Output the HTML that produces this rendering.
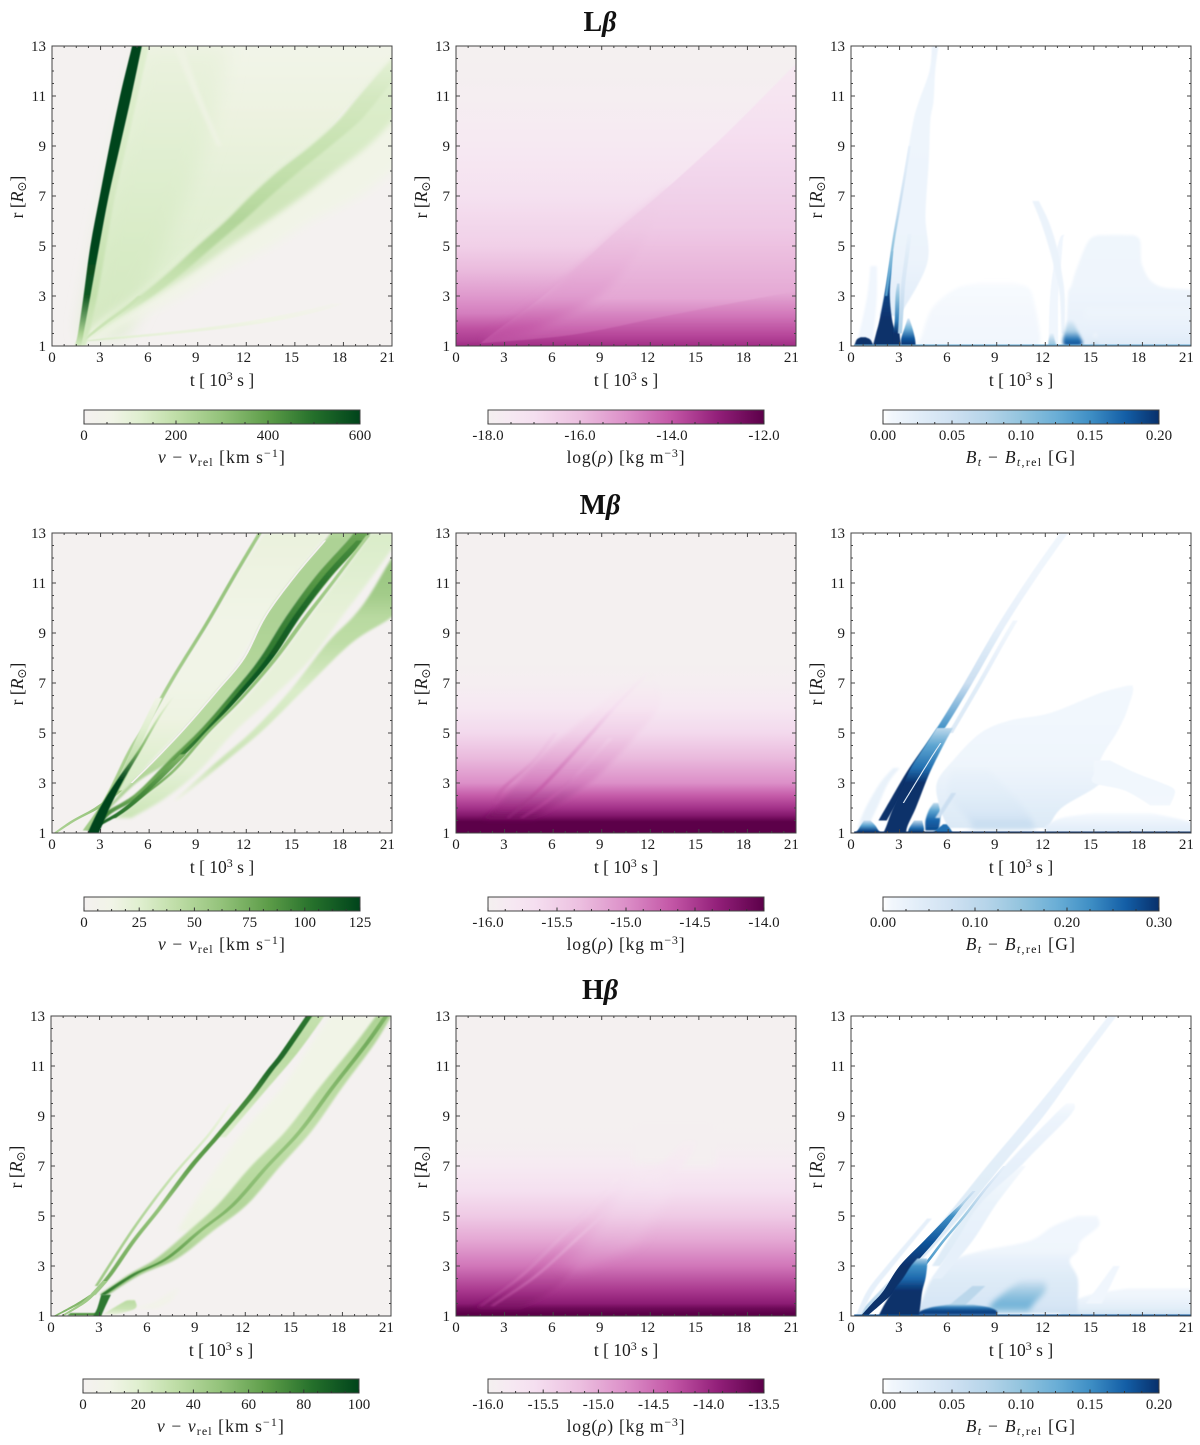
<!DOCTYPE html>
<html lang="en">
<head>
<meta charset="utf-8">
<title>Lβ, Mβ and Hβ time-distance maps</title>
<style>
html,body{margin:0;padding:0;background:#fff;width:1200px;height:1445px;overflow:hidden}
svg{display:block}
text{font-family:"Liberation Serif","DejaVu Serif",serif;fill:#1c1c1c}
.title{font-weight:bold;font-size:28px;text-anchor:middle;fill:#111}
.tick{font-size:15px}
.axis{font-size:17.5px;text-anchor:middle}
</style>
</head>
<body>
<svg id="figure" xmlns="http://www.w3.org/2000/svg" width="1200" height="1445" viewBox="0 0 1200 1445">
  <defs id="defs"></defs>
  <text class="title" x="600" y="31">L<tspan font-style="italic">β</tspan></text>
  <text class="title" x="600" y="514">M<tspan font-style="italic">β</tspan></text>
  <text class="title" x="600" y="999">H<tspan font-style="italic">β</tspan></text>
</svg>
<script>
/* ---------- shared axes ---------- */
const xTickLabels = [0, 3, 6, 9, 12, 15, 18, 21];
const yTickLabels = [1, 3, 5, 7, 9, 11, 13];

/* ---------- colorbar ticks ---------- */
const lbVelBarTicks = ['0', '200', '400', '600'];
const lbRhoBarTicks = ['-18.0', '-16.0', '-14.0', '-12.0'];
const lbMagBarTicks = ['0.00', '0.05', '0.10', '0.15', '0.20'];
const mbVelBarTicks = ['0', '25', '50', '75', '100', '125'];
const mbRhoBarTicks = ['-16.0', '-15.5', '-15.0', '-14.5', '-14.0'];
const mbMagBarTicks = ['0.00', '0.10', '0.20', '0.30'];
const hbVelBarTicks = ['0', '20', '40', '60', '80', '100'];
const hbRhoBarTicks = ['-16.0', '-15.5', '-15.0', '-14.5', '-14.0', '-13.5'];
const hbMagBarTicks = ['0.00', '0.05', '0.10', '0.15', '0.20'];

/* ---------- Lβ velocity: each band = radius rows, left t, right t, value ---------- */
const lbVelR = [
 [1,13],
 [1.2,1.84,2.8,3.9,5.1,6.3,8.2,9.2,10.7,12.4,13],
 [1.5,5,9,13],
 [9,11,13],
 [1.3,2,3,4,5,6,7,8,9,10,11,12.4,13],
 [1.3,2,3,4,5,6,7,8,9,10,11,12.4,13],
 [1.3,2,3,4,5,6,7,8,9,10,11,12.4,13],
 [1.2,1.35,1.5,1.7,2,2.4,2.7],
 [1.25,1.9,2.6,3],
 [1,3,5,7,9,11,13],
 [1,1.5,3,5,7,9,11,13,13.3]
];
const lbVelLo = [
 [-1,-1],
 [1.8,2.1,2.45,2.7,3,3.3,3.8,4.2,4.8,5.4,5.6],
 [1.9,2.9,4.2,5.5],
 [10.2,8.8,7.5],
 [2,3.15,5.4,7.3,9,10.75,12.3,14,16,17.7,19,20.9,22],
 [2,3.15,5.4,7.3,9,10.75,12.3,14,16,17.7,19,20.9,22],
 [2,3.15,5.4,7.3,9,10.75,12.3,14,16,17.7,19,20.9,22],
 [1.9,3.7,6.2,9,12.2,15.4,17.3],
 [1.9,3.1,4.6,5.3],
 [1.6,2.2,2.8,3.3,4,4.7,5.3],
 [1.4,1.6,1.95,2.37,2.95,3.55,4.2,4.95,5.05]
];
const lbVelHi = [
 [22,22],
 [1.95,3,5,7.1,9.2,11.2,14.3,16.4,18.4,20.9,22],
 [4.5,7,9.5,11],
 [10.5,9.2,8.1],
 [3,5,8,10.5,13.5,16,19,21,23,24,24,24,24],
 [2.4,4,6.4,8.8,11,13.3,15.5,17.5,19.5,21,22,23,24],
 [2.5,3.8,6.2,8.2,10,11.8,13.5,15.3,17.2,19,20.3,22,23],
 [2.3,5.3,7.8,10.6,13.8,16.6,18],
 [2.1,3.4,4.9,5.6],
 [2.1,2.8,3.35,3.9,4.6,5.3,6],
 [1.8,1.95,2.37,2.92,3.5,4.2,4.9,5.55,5.65]
];
const lbVelVal = [
 0,
 [150,140,130,122,115,108,95,85,72,60,55],
 [150,140,115,80],
 70,
 60,
 [60,110,140,150,150,160,160,150,140,135,130,100,80],
 [80,130,170,190,220,230,210,190,180,165,150,110,90],
 [150,110,90,80,65,45,20],
 170,
 [140,190,170,150,140,130,120],
 [150,250,550,600,600,600,600,600,600]
];
const lbVelSoft = [0,0.6,9,1.5,5,3,1.2,0.6,0.5,1,0.4];

/* ---------- Lβ density ---------- */
const lbRhoR = [
 [1,1.2,1.7,2.3,3,4,5,7,9,11,12,13],
 [1.1,1.7,2.9,4.4,5.7,7.3,9.5,12.3],
 [1.2,1.7,2.9,4.4,5.7,7.3],
 [1,1.1,1.45,2.25,3.2]
];
const lbRhoLo = [
 [-1,-1,-1,-1,-1,-1,-1,-1,-1,-1,-1,-1],
 [1.5,2.7,5.2,7.9,10.1,13,16.7,21],
 [1.6,2.7,5.2,7.9,10.1,13],
 [1,1.5,7.2,13.4,21]
];
const lbRhoHi = [
 [22,22,22,22,22,22,22,22,22,22,22,22],
 [22,22,22,22,22,22,22,22],
 [2.6,5.2,8.7,10.9,12.1,13.4],
 [22,22,22,22,22]
];
const lbRhoVal = [
 [-13.2,-13.5,-13.9,-14.7,-15.2,-15.9,-16.5,-17.1,-17.5,-17.85,-17.95,-18],
 [-13.8,-14.3,-15.5,-15.9,-16.3,-16.6,-17,-17.5],
 [-13.8,-14,-15.2,-15.8,-16.27,-16.6],
 [-13.2,-13.4,-13.75,-14.6,-15.6]
];
const lbRhoSoft = [0,0.4,4,0.5];

/* ---------- Lβ magnetic field ---------- */
const lbMagR = [
 [1,13],
 [1,1.5,3,4.2],
 [2.2,4.3,6.2,8.35,10,10.8,12,13],
 [1,1.3,2.5,3.3,3.55],
 [1,3,4.5,5.3,5.45],
 [1,3,3.4,4.2,5.3,5.45],
 [1,1.5,2.5],
 [1.5,3,4,5,6,6.8],
 [1,1.25,1.35],
 [1,1.5,2,3,4,4.8],
 [1,1.5,2,3,3.5],
 [1,1.3,1.7,2.1],
 [3,5,6.5,8,9],
 [1.5,2.5,3.5,4.5,5.5],
 [1,1.1,1.3,1.6,2],
 [1,1.2,1.5],
 [1,1.2,1.5],
 [1,1.06]
];
const lbMagLo = [
 [-1,-1],
 [0.2,0.5,1,1.2],
 [1.75,2.4,2.8,3.4,3.85,4.2,4.85,5],
 [3.9,4.3,5,6.5,8],
 [12.2,12.3,12.6,12.9,13.1],
 [13.3,13.4,13.6,14,14.8,16],
 [14,14,14.5],
 [13,12.9,12.6,12.2,11.7,11.2],
 [0.2,0.35,0.6],
 [1.35,1.55,1.75,2.05,2.3,2.5],
 [2.6,2.6,2.7,2.75,2.85],
 [3.1,3.1,3.3,3.5],
 [2.1,2.5,2.9,3.3,3.55],
 [2.9,3,3.1,3.3,3.5],
 [13.2,13.1,13.1,13.2,13.4],
 [12.2,12.2,12.3],
 [14.8,14.8,15],
 [0.2,0.2]
];
const lbMagHi = [
 [22,22],
 [1.3,1.4,1.6,1.6],
 [3,4.7,4.6,4.8,4.9,5.1,5.2,5.4],
 [11.5,11.7,11.4,11,10],
 [12.8,12.8,13,13.1,13.2],
 [22,22,19,18,17.8,16.8],
 [22,22,22],
 [13.2,13.2,13,12.7,12.2,11.6],
 [1.4,1.2,0.9],
 [3,2.8,2.55,2.4,2.5,2.6],
 [3.1,3,3,3,3],
 [4,3.95,3.8,3.6],
 [2.25,2.65,3.05,3.45,3.7],
 [3.15,3.25,3.35,3.55,3.75],
 [14.1,14.3,14.2,14,13.7],
 [12.7,12.6,12.5],
 [15.3,15.3,15.2],
 [22,22]
];
const lbMagVal = [
 0,
 0.008,
 [0.028,0.014,0.012,0.012,0.011,0.011,0.012,0.014],
 [0.008,0.006,0.005,0.004,0.002],
 0.008,
 [0.02,0.012,0.01,0.01,0.009,0.006],
 [0.032,0.02,0.01],
 0.014,
 0.2,
 [0.2,0.2,0.2,0.19,0.15,0.1],
 [0.2,0.2,0.16,0.1,0.06],
 [0.2,0.18,0.12,0.04],
 [0.14,0.1,0.06,0.03,0.02],
 [0.08,0.06,0.04,0.03,0.015],
 [0.18,0.18,0.16,0.08,0.03],
 [0.1,0.08,0.02],
 [0.05,0.03,0.01],
 0.13
];
const lbMagSoft = [0,1,0.8,1.5,0.6,1.2,3,0.8,0.4,0.4,0.4,0.6,0.4,0.6,1.6,0.8,1,0.2];

/* ---------- Mβ velocity ---------- */
const mbVelR = [
 [1,13],
 [2.5,4,5.6,7.25,9.4,11.25,13],
 [1.6,2.4,3.5,5,6.3,7.9,9.65,11.1,13],
 [2.3,3.75,5.1,6.7,8.6,9.65,10.5,11.8,13],
 [1.75,3,3.9,5.2,6.7,8,9.65,11.25,12.7,13.2],
 [1.1,1.75,2.55,3.9,5.2,6.7,8,9.65,11.25,12.7,13.2],
 [3.9,5.2,6.7,8,9.65,11.25,12.7],
 [1.6,2.4,3.5,5,6.3,7.9,9.65,11.1,12.9],
 [3,3.9,5.2,6.7,8,9.65,11.25,12.7],
 [1.3,1.9,2.8,4.15],
 [1.1,2.4,4.3,5.6,7.25,9.4,11.25,13.1],
 [1.1,3,5.2,6.4],
 [1,1.5,2,2.7],
 [1,2,3.1,4.3,5.6,6.5]
];
const mbVelLo = [
 [-1,-1],
 [3.6,4.9,6.3,7.7,9.8,11.4,13.1],
 [3.9,5.5,7.6,9.7,11.8,13.9,15.9,17.6,19.7],
 [7.5,10,12.4,14.7,17,18.6,19.6,20.8,22],
 [3,4.9,6.3,8.2,10.2,11.85,13.15,14.95,16.85,17.4],
 [2.2,3.1,5.1,7.2,9.25,11.25,12.85,14.45,16.25,18.25,18.85],
 [7.5,9.55,11.6,13.25,14.9,16.75,18.8],
 [3.7,5.3,7.4,9.45,11.45,13.55,15.55,17.3,19.4],
 [4.85,6.25,8.15,10.15,11.8,13.1,14.9,16.8],
 [2.6,4.2,5.8,7.9],
 [1.9,3.25,4.7,5.95,7.4,9.45,11.1,12.8],
 [2.1,3.95,5.5,6.4],
 [0.1,1.2,2.6,4.1],
 [2.2,2.95,4,5.3,6.5,7.5]
];
const mbVelHi = [
 [22,22],
 [4.3,6.3,8.7,10.8,13,14.9,17.1],
 [4.9,7,9.1,11.2,13.4,15.9,17.9,19.6,21.7],
 [7.8,10.5,13,15.5,18.5,21,22,22,22],
 [3.2,5.2,7.3,9.3,11.3,12.9,14.5,16.3,18.3,18.9],
 [2.8,3.6,5.7,7.85,9.85,11.95,13.65,15.35,17.25,19.3,19.9],
 [7.8,9.85,11.95,13.65,15.3,17.2,19.3],
 [3.95,5.55,7.65,9.7,11.7,13.85,15.85,17.55,19.65],
 [4.98,6.38,8.28,10.28,11.93,13.23,15.03,16.93],
 [3,4.6,6.2,8.3],
 [2.15,3.5,4.95,6.2,7.65,9.7,11.35,13.05],
 [2.5,4.4,5.95,6.8],
 [0.3,1.5,2.95,4.35],
 [2.9,3.55,4.4,5.5,6.65,7.6]
];
const mbVelVal = [
 0,
 [30,25,15,12,12,15,18],
 [35,30,22,20,20,20,20,24,28],
 [10,36,32,28,42,45,55,60,50],
 [60,50,45,45,45,48,50,50,50,45],
 [100,90,75,80,85,95,100,95,85,80,75],
 [95,105,115,115,110,100,90],
 [90,85,65,65,65,60,60,55,50],
 0,
 [110,100,90,70],
 [55,55,50,50,55,60,60,55],
 [60,50,25,12],
 [50,55,60,55],
 [125,125,125,70,35,12]
];
const mbVelSoft = [0,1.2,1.5,1.2,1,0.7,0.4,0.4,0.2,0.4,0.4,0.5,0.3,0.4];

/* ---------- Mβ density ---------- */
const mbRhoR = [
 [1,1.45,1.55,1.7,2,2.5,3,4,5,6,7,8,13],
 [1.55,2,3,4,5,6,7,7.4],
 [1.6,2.8,4.4,6,7.4],
 [1.6,2.3,3.4,4.8],
 [2.2,2.8,3.9,5]
];
const mbRhoLo = [
 [-1,-1,-1,-1,-1,-1,-1,-1,-1,-1,-1,-1,-1],
 [1.6,2.5,3.8,5.2,6.9,8.7,10.5,11.8],
 [3.05,5.1,7.4,9.6,11.7],
 [3.9,5.5,7.4,9.4],
 [2.3,2.8,4.7,6]
];
const mbRhoHi = [
 [22,22,22,22,22,22,22,22,22,22,22,22,22],
 [4.8,6,8.3,9.9,11.3,12.5,12.5,12.2],
 [3.35,5.4,7.7,9.9,12],
 [4.2,5.8,7.7,9.7],
 [2.6,3.1,5,6.3]
];
const mbRhoVal = [
 [-14,-14,-14.1,-14.25,-14.45,-14.7,-15,-15.3,-15.6,-15.82,-15.95,-16,-16],
 [-14.1,-14.4,-14.9,-15.2,-15.5,-15.75,-15.92,-15.97],
 [-14.25,-14.7,-15.15,-15.65,-15.96],
 [-14.3,-14.6,-15.05,-15.5],
 [-14.55,-14.8,-15.2,-15.55]
];
const mbRhoSoft = [0,2.5,1,1,1];

/* ---------- Mβ magnetic field ---------- */
const mbMagR = [
 [1,13],
 [1.2,2,3,3.9,5,5.5,5.8,6.6,6.9],
 [2.1,2.7,3,3.4,3.9],
 [1.05,1.25,1.6,1.8],
 [1.1,1.3,1.7,2.5,3.5],
 [1.2,2,3,3.6],
 [1.5,2.4,3.6,5.2,7,9.25,11.25,13],
 [5,7,8.5,9.5],
 [1,1.3,2,3,3.6,4.5,5.2],
 [2.2,3,4,4.6],
 [1,1.1,1.3,1.5],
 [1.1,1.5,1.9,2.2],
 [1,1.2,1.5],
 [1,1.2,1.35],
 [1.6,2.6],
 [1,1.06]
];
const mbMagLo = [
 [-1,-1],
 [6,5.5,5.3,6.3,8,9.8,12.3,15.4,17.1],
 [18.5,16.9,15,15,15],
 [12,12,13,15],
 [7,7.5,7,6,6.2],
 [0.4,0.9,1.8,2.6],
 [1.7,2.5,3.6,5.3,7,9,11,12.9],
 [6,7.8,9.1,10],
 [2,2.2,2.6,3.3,3.7,4.6,5.3],
 [3.2,3.95,4.9,5.5],
 [0.2,0.4,0.6,0.8],
 [4.6,4.6,4.8,5.1],
 [3.5,3.6,3.9],
 [5,5.4,5.7],
 [5.2,6.2],
 [0.2,0.2]
];
const mbMagHi = [
 [22,22],
 [12.2,13,15.4,15.4,16.4,16.8,17,17.4,17.4],
 [19.7,20,19.2,17.6,16],
 [22,22,20,18.5],
 [11.5,11.3,11,10,8.5],
 [1,1.6,2.3,3],
 [2.2,3,4.1,5.8,7.5,9.5,11.5,13.4],
 [6.3,8.1,9.4,10.3],
 [3.4,3.5,4,4.6,5,5.7,6.3],
 [3.28,4.03,4.98,5.58],
 [1.9,1.7,1.5,1.2],
 [5.4,5.5,5.5,5.4],
 [4.5,4.5,4.4],
 [6.3,6.1,5.9],
 [5.5,6.5],
 [22,22]
];
const mbMagVal = [
 0,
 [0.05,0.04,0.025,0.015,0.012,0.01,0.01,0.01,0.008],
 [0.008,0.01,0.01,0.01,0.009],
 [0.04,0.03,0.012,0.006],
 [0.06,0.09,0.06,0.04,0.025],
 0.025,
 [0.3,0.3,0.3,0.22,0.08,0.03,0.015,0.012],
 [0.05,0.04,0.02,0.01],
 [0.3,0.3,0.3,0.3,0.25,0.2,0.1],
 0.04,
 [0.3,0.28,0.2,0.08],
 [0.28,0.26,0.2,0.1],
 [0.3,0.25,0.1],
 0.25,
 0.08,
 0.3
];
const mbMagSoft = [0,0.8,0.6,1,3,1,0.4,0.6,0.4,0.3,0.6,0.8,0.6,0.6,0.8,0.2];

/* ---------- Hβ velocity ---------- */
const hbVelR = [
 [1,13],
 [4.4,6.3,8.4,10.15,11.9,13],
 [1.85,2.65,3.3,4.4,5.45,6.95,8.4,10.15,11.9,13.2],
 [1.85,2.65,3.3,4.4,5.45,6.95,8.4,10.15,11.9,13.2],
 [2.2,4.5,6.5,8.3,9.5],
 [8.15,9.75,11.5,13.2],
 [1.85,2.65,4,5.3,6.95,8.15,9.75,10.8,11.5,13.2],
 [1,1.5,1.85],
 [1,1.6,2.4],
 [1.02,1.12],
 [1,1.3,1.85],
 [1.05,1.3,1.6,1.65],
 [1.3,1.6,2.1]
];
const hbVelLo = [
 [-1,-1],
 [7.8,9.6,11.9,14.3,16.1,17.2],
 [3,4.8,6.5,8.5,10.3,12.3,14.5,16.6,18.8,20.3],
 [3.05,4.95,7,9.05,11.1,13.15,15.25,17.25,19.35,20.75],
 [2.7,5,7.3,9.7,11],
 [10.2,12.2,14.3,16.2],
 [2.45,3.5,4.95,6.55,8.45,10.05,12.1,13.3,14.15,15.95],
 [0.15,1.55,2.4],
 [0.6,2,3.2],
 [1,1.2],
 [2.6,2.85,3.1],
 [3.2,3.8,4.6,4.9],
 [5.2,6.5,7.6]
];
const hbVelHi = [
 [22,22],
 [9.2,11.8,14.9,16.9,19,20.2],
 [3.5,5.5,7.8,10,12.1,14.1,16.1,18,20,21.2],
 [3.35,5.25,7.3,9.35,11.4,13.45,15.55,17.55,19.65,21.05],
 [2.9,5.2,7.5,9.9,11.2],
 [10.8,12.9,15.2,17.1],
 [2.75,3.8,5.25,6.85,8.8,10.4,12.5,13.7,14.55,16.35],
 [0.35,1.85,2.7],
 [0.8,2.3,3.5],
 [3.1,3.1],
 [3.1,3.3,3.7],
 [4,5.2,5.2,5.1],
 [6.5,7.4,8]
];
const hbVelVal = [
 0,
 [12,10,10,10,10,10],
 [60,50,40,35,38,35,32,35,38,40],
 [80,75,65,55,55,50,50,55,60,55],
 [45,40,30,20,10],
 [20,30,35,30],
 [60,60,55,50,65,70,75,85,85,80],
 55,
 45,
 70,
 80,
 [12,30,35,20],
 [8,8,3]
];
const hbVelSoft = [0,2.5,1,0.5,0.5,0.8,0.5,0.3,0.3,0.4,0.4,0.8,1.5];

/* ---------- Hβ density ---------- */
const hbRhoR = [
 [1,1.1,1.3,1.5,2,3,4,5,6,7,7.5,8,9,13],
 [7,8.7],
 [1.3,2,3,4,5,6,7,8],
 [3,4,5,6,7],
 [1.4,2.6,4,5.5,6.5],
 [1.4,2.6,4,5.5]
];
const hbRhoLo = [
 [-1,-1,-1,-1,-1,-1,-1,-1,-1,-1,-1,-1,-1,-1],
 [11,11],
 [1,3,4.8,6.5,8.2,10,12.5,14],
 [6.5,8,9,10,11],
 [1.4,3.9,6.1,8.4,9.8],
 [2.1,4.8,7.2,9.7]
];
const hbRhoHi = [
 [22,22,22,22,22,22,22,22,22,22,22,22,22,22],
 [16,16],
 [4,6,7.5,9,10.5,12,14,15],
 [8,11,12,13,13],
 [1.65,4.15,6.35,8.65,10.05],
 [2.35,5.05,7.45,9.95]
];
const hbRhoVal = [
 [-13.5,-13.5,-13.62,-13.87,-14.1,-14.57,-14.95,-15.3,-15.6,-15.82,-15.9,-15.98,-16,-16],
 -15.96,
 [-13.7,-14.05,-14.5,-14.9,-15.25,-15.55,-15.8,-15.95],
 [-14.62,-15,-15.35,-15.65,-15.85],
 [-13.95,-14.5,-15,-15.45,-15.78],
 [-14.05,-14.55,-15.05,-15.45]
];
const hbRhoSoft = [0,4,2.5,6,1,1];

/* ---------- Hβ magnetic field ---------- */
const hbMagR = [
 [1,13],
 [1,1.3,1.8,2.1],
 [1.5,3],
 [1.1,1.5,2.5,3.2,3.6,4,4.6,5],
 [1.2,1.5,2,2.4],
 [1.4,2.2],
 [1.05,1.2,1.35,1.45],
 [1,3,5,7,9,11,13],
 [1,2,3,4.9],
 [3,5,7,9,9.5],
 [2.5,4,5.5,7],
 [2,3,4,5,6,7],
 [1,1.5,2,3,4,5,5.5,6],
 [1,1.5,2,2.5,3,3.3],
 [1,1.06]
];
const hbMagLo = [
 [-1,-1],
 [13,13,14.5,17],
 [14.5,16.2],
 [3.9,4.3,5,6.2,8,11,12.5,14],
 [8.5,8.7,9.6,10.5],
 [6,7.5],
 [4,4.3,5,6],
 [0.3,3.2,5.9,8.4,11,13.5,15.9],
 [0.3,1,2.2,4.7],
 [5,7,9.5,12.5,13.3],
 [5,6.5,8,10.5],
 [2.9,4.4,5.6,6.9,8.1,9.4],
 [0.6,1.3,2,3,4.5,6,6.8,7.5],
 [1.7,2.1,2.6,3.2,3.7,4.1],
 [0.2,0.2]
];
const hbMagHi = [
 [22,22],
 [22,22,22,22],
 [15.5,16.6],
 [14,14,14,13.5,14,14.2,15.3,15.2],
 [11,11.3,12,12],
 [7,8.3],
 [9,9,8.5,7.5],
 [0.8,4,6.8,9.3,11.9,14.1,16.4],
 [0.6,1.4,2.6,5],
 [5.5,8,10.5,13.5,13.8],
 [5.6,7.5,9,10.8],
 [3.1,4.6,5.8,7.1,8.3,9.6],
 [1,1.9,2.7,3.85,5.2,6.4,7,7.7],
 [4.2,4.3,4.4,4.6,4.7,4.7],
 [22,22]
];
const hbMagVal = [
 0,
 [0.05,0.025,0.01,0.006],
 0.008,
 [0.05,0.04,0.03,0.02,0.01,0.008,0.008,0.006],
 [0.11,0.12,0.09,0.05],
 0.07,
 [0.19,0.19,0.16,0.1],
 [0.08,0.03,0.03,0.025,0.02,0.015,0.012],
 0.02,
 [0.03,0.025,0.02,0.012,0.004],
 [0.02,0.02,0.015,0.005],
 [0.18,0.15,0.12,0.09,0.05,0.02],
 [0.2,0.2,0.2,0.2,0.18,0.15,0.08,0.05],
 [0.2,0.2,0.2,0.17,0.15,0.08],
 0.18
];
const hbMagSoft = [0,1,0.8,1.2,3,0.8,0.8,0.6,0.5,0.7,0.7,0.3,0.3,0.5,0.2];

/* ---------- labels ---------- */
const xAxisMarkup = 't [ 10<tspan dy="-6" font-size="12">3</tspan><tspan dy="6"> s ]</tspan>';
const yAxisMarkup = 'r [<tspan font-style="italic">R</tspan><tspan dy="3" font-size="12" font-family="DejaVu Sans">⊙</tspan><tspan dy="-3">]</tspan>';
const velBarMarkup = '<tspan font-style="italic">v</tspan> − <tspan font-style="italic">v</tspan><tspan dy="3" font-size="12">rel</tspan><tspan dy="-3"> [km s</tspan><tspan dy="-6" font-size="12">−1</tspan><tspan dy="6">]</tspan>';
const rhoBarMarkup = 'log(<tspan font-style="italic">ρ</tspan>) [kg m<tspan dy="-6" font-size="12">−3</tspan><tspan dy="6">]</tspan>';
const magBarMarkup = '<tspan font-style="italic">B</tspan><tspan dy="3" font-size="12" font-style="italic">t</tspan><tspan dy="-3"> − </tspan><tspan font-style="italic">B</tspan><tspan dy="3" font-size="12"><tspan font-style="italic">t</tspan>,rel</tspan><tspan dy="-3"> [G]</tspan>';

/* ---------- colormaps (norm position + colour) ---------- */
const greenStops = [[0,'#f4f1f0'],[0.1,'#f1f4e7'],[0.2,'#e0efd0'],[0.33,'#c0dea8'],[0.5,'#93c27a'],[0.67,'#5c9c48'],[0.83,'#25702b'],[1,'#00441b']];
const pinkStops = [[0,'#f4f0f0'],[0.08,'#f6e9f2'],[0.17,'#f5dff0'],[0.33,'#ecc0e0'],[0.5,'#dc8fc8'],[0.67,'#c255a5'],[0.83,'#93207a'],[1,'#5c0049']];
const blueStops = [[0,'#ffffff'],[0.03,'#f2f7fd'],[0.13,'#e1edf8'],[0.25,'#cfe1f2'],[0.38,'#b5d4e9'],[0.5,'#93c4de'],[0.63,'#6aaed6'],[0.75,'#3f8fc5'],[0.88,'#135ea6'],[1,'#08306b']];

function hexToRgb(h){return [parseInt(h.substr(1,2),16),parseInt(h.substr(3,2),16),parseInt(h.substr(5,2),16)];}
function sampleMap(stops,n){
  n=Math.max(0,Math.min(1,n));
  for(let i=1;i<stops.length;i++){
    if(n<=stops[i][0]){
      const a=stops[i-1],b=stops[i],f=(n-a[0])/(b[0]-a[0]);
      const ca=hexToRgb(a[1]),cb=hexToRgb(b[1]);
      return 'rgb('+ca.map((c,k)=>Math.round(c+(cb[k]-c)*f)).join(',')+')';
    }
  }
  return stops[stops.length-1][1];
}

const SVGNS='http://www.w3.org/2000/svg';
const svg=document.getElementById('figure');
const defs=document.getElementById('defs');
function make(tag,attrs,parent){
  const el=document.createElementNS(SVGNS,tag);
  for(const k in attrs){el.setAttribute(k,attrs[k]);}
  (parent||svg).appendChild(el);
  return el;
}
const softFilters={};
function softFilter(s){
  const id='soft-'+String(s).replace('.','-');
  if(!softFilters[id]){
    const f=make('filter',{id:id,filterUnits:'userSpaceOnUse',x:0,y:0,width:1200,height:1445},defs);
    make('feGaussianBlur',{stdDeviation:s},f);
    softFilters[id]=true;
  }
  return id;
}
/* smooth edge through rows (Catmull-Rom) so bands have no visible kinks */
function splineTo(pts){
  let d='';
  for(let i=0;i<pts.length-1;i++){
    const p0=pts[Math.max(0,i-1)],p1=pts[i],p2=pts[i+1],p3=pts[Math.min(pts.length-1,i+2)];
    const c1x=p1[0]+(p2[0]-p0[0])/6,c1y=p1[1]+(p2[1]-p0[1])/6;
    const c2x=p2[0]-(p3[0]-p1[0])/6,c2y=p2[1]-(p3[1]-p1[1])/6;
    d+='C'+c1x.toFixed(2)+' '+c1y.toFixed(2)+' '+c2x.toFixed(2)+' '+c2y.toFixed(2)+' '+p2[0].toFixed(2)+' '+p2[1].toFixed(2);
  }
  return d;
}
let uid=0;
const PLOT=300, PLOTW=340, BARW=276, BARH=14;

function drawPanel(p){
  const g=make('g',{});
  
  
  const X=t=>p.left+t/21*PLOTW;
  const Y=r=>p.top+PLOT-(r-1)/12*PLOT;
  const N=v=>(v-p.min)/(p.max-p.min);
  const clipId='clip-'+p.name;
  const cp=make('clipPath',{id:clipId},defs);
  make('rect',{x:p.left,y:p.top,width:PLOTW,height:PLOT},cp);
  const heat=make('g',{'clip-path':'url(#'+clipId+')'},g);
  
  
  p.R.forEach((rows,i)=>{
    const left=rows.map((r,k)=>[X(p.Lo[i][k]),Y(r)]);
    const right=rows.map((r,k)=>[X(p.Hi[i][k]),Y(r)]).reverse();
    let d='M'+left[0][0].toFixed(2)+' '+left[0][1].toFixed(2)+splineTo(left);
    d+='L'+right[0][0].toFixed(2)+' '+right[0][1].toFixed(2)+splineTo(right)+'Z';
    let fill;
    const val=p.Val[i];
    if(Array.isArray(val)){
      const gid='grad-'+(uid++);
      const y0=Y(rows[0]),y1=Y(rows[rows.length-1]);
      const lg=make('linearGradient',{id:gid,gradientUnits:'userSpaceOnUse',x1:0,x2:0,y1:y0,y2:y1},defs);
      rows.forEach((r,k)=>{
        make('stop',{offset:((Y(r)-y0)/(y1-y0)).toFixed(4),'stop-color':sampleMap(p.cmap,N(val[k]))},lg);
      });
      fill='url(#'+gid+')';
    }else{
      fill=sampleMap(p.cmap,N(val));
    }
    const attrs={d:d,fill:fill};
    if(p.Soft[i]>0){attrs.filter='url(#'+softFilter(p.Soft[i])+')';}
    const band=make('path',attrs,heat);
    
    
  });
  const frame=make('rect',{x:p.left,y:p.top,width:PLOTW,height:PLOT,fill:'none',stroke:'#444','stroke-width':1},g);
  
  

  const tickG=make('g',{stroke:'#444','stroke-width':1},g);
  
  
  const line=(x1,y1,x2,y2)=>make('line',{x1:x1,y1:y1,x2:x2,y2:y2},tickG);
  xTickLabels.forEach((t,i)=>{
    const x=X(t);
    line(x,p.top+PLOT,x,p.top+PLOT-4);
    line(x,p.top,x,p.top+4);
    if(i<xTickLabels.length-1){
      for(let m=1;m<4;m++){
        const xm=X(t+(xTickLabels[i+1]-t)*m/4);
        line(xm,p.top+PLOT,xm,p.top+PLOT-2);
        line(xm,p.top,xm,p.top+2);
      }
    }
    const lab=make('text',{class:'tick',x:x-t*0.22,y:p.top+PLOT+16,'text-anchor':'middle'},g);
    lab.textContent=t;
    
    
  });
  yTickLabels.forEach((r,i)=>{
    const y=Y(r);
    line(p.left,y,p.left+4,y);
    line(p.left+PLOTW,y,p.left+PLOTW-4,y);
    if(i<yTickLabels.length-1){
      for(let m=1;m<4;m++){
        const ym=Y(r+(yTickLabels[i+1]-r)*m/4);
        line(p.left,ym,p.left+2,ym);
        line(p.left+PLOTW,ym,p.left+PLOTW-2,ym);
      }
    }
    const lab=make('text',{class:'tick',x:p.left-6,y:y+5,'text-anchor':'end'},g);
    lab.textContent=r;
    
    
  });
  const xl=make('text',{class:'axis',x:p.left+170,y:p.top+PLOT+40},g);
  xl.innerHTML=xAxisMarkup;
  
  
  const yl=make('text',{class:'axis',transform:'translate('+(p.left-34)+','+(p.top+151)+') rotate(-90)',x:0,y:5},g);
  yl.innerHTML=yAxisMarkup;
  
  

  /* colorbar */
  const bx=p.left+32, by=p.barTop;
  const bar=make('g',{},g);
  
  
  const gid='bar-'+p.name;
  const lg=make('linearGradient',{id:gid,x1:0,x2:1,y1:0,y2:0},defs);
  p.cmap.forEach(s=>make('stop',{offset:s[0],'stop-color':s[1]},lg));
  make('rect',{x:bx,y:by,width:BARW,height:BARH,fill:'url(#'+gid+')',stroke:'#444','stroke-width':1},bar);
  const ticks=p.barTicks.map(Number);
  const BX=v=>bx+N(v)*BARW;
  ticks.forEach((v,i)=>{
    make('line',{x1:BX(v),x2:BX(v),y1:by+BARH,y2:by+BARH-3.5,stroke:'#333'},bar);
    if(i<ticks.length-1){
      for(let m=1;m<4;m++){
        const xm=BX(v+(ticks[i+1]-v)*m/4);
        make('line',{x1:xm,x2:xm,y1:by+BARH,y2:by+BARH-2,stroke:'#333'},bar);
      }
    }
    const lab=make('text',{class:'tick',x:BX(v),y:by+30,'text-anchor':'middle'},bar);
    lab.textContent=p.barTicks[i];
    
    
  });
  const bl=make('text',{class:'axis',x:bx+138,y:by+53,style:'letter-spacing:'+p.barSpacing+'px'},bar);
  bl.innerHTML=p.barMarkup;
  
  
}

const panelList=[
 {name:'low-beta-velocity',left:52,top:46,barTop:410,cmap:greenStops,min:0,max:600,R:lbVelR,Lo:lbVelLo,Hi:lbVelHi,Val:lbVelVal,Soft:lbVelSoft,barTicks:lbVelBarTicks,barMarkup:velBarMarkup,barSpacing:1.1},
 {name:'low-beta-density',left:456,top:46,barTop:410,cmap:pinkStops,min:-18,max:-12,R:lbRhoR,Lo:lbRhoLo,Hi:lbRhoHi,Val:lbRhoVal,Soft:lbRhoSoft,barTicks:lbRhoBarTicks,barMarkup:rhoBarMarkup,barSpacing:0.8},
 {name:'low-beta-field',left:851,top:46,barTop:410,cmap:blueStops,min:0,max:0.2,R:lbMagR,Lo:lbMagLo,Hi:lbMagHi,Val:lbMagVal,Soft:lbMagSoft,barTicks:lbMagBarTicks,barMarkup:magBarMarkup,barSpacing:1.3},
 {name:'medium-beta-velocity',left:52,top:533,barTop:897,cmap:greenStops,min:0,max:125,R:mbVelR,Lo:mbVelLo,Hi:mbVelHi,Val:mbVelVal,Soft:mbVelSoft,barTicks:mbVelBarTicks,barMarkup:velBarMarkup,barSpacing:1.1},
 {name:'medium-beta-density',left:456,top:533,barTop:897,cmap:pinkStops,min:-16,max:-14,R:mbRhoR,Lo:mbRhoLo,Hi:mbRhoHi,Val:mbRhoVal,Soft:mbRhoSoft,barTicks:mbRhoBarTicks,barMarkup:rhoBarMarkup,barSpacing:0.8},
 {name:'medium-beta-field',left:851,top:533,barTop:897,cmap:blueStops,min:0,max:0.3,R:mbMagR,Lo:mbMagLo,Hi:mbMagHi,Val:mbMagVal,Soft:mbMagSoft,barTicks:mbMagBarTicks,barMarkup:magBarMarkup,barSpacing:1.3},
 {name:'high-beta-velocity',left:51,top:1016,barTop:1379,cmap:greenStops,min:0,max:100,R:hbVelR,Lo:hbVelLo,Hi:hbVelHi,Val:hbVelVal,Soft:hbVelSoft,barTicks:hbVelBarTicks,barMarkup:velBarMarkup,barSpacing:1.1},
 {name:'high-beta-density',left:456,top:1016,barTop:1379,cmap:pinkStops,min:-16,max:-13.5,R:hbRhoR,Lo:hbRhoLo,Hi:hbRhoHi,Val:hbRhoVal,Soft:hbRhoSoft,barTicks:hbRhoBarTicks,barMarkup:rhoBarMarkup,barSpacing:0.8},
 {name:'high-beta-field',left:851,top:1016,barTop:1379,cmap:blueStops,min:0,max:0.2,R:hbMagR,Lo:hbMagLo,Hi:hbMagHi,Val:hbMagVal,Soft:hbMagSoft,barTicks:hbMagBarTicks,barMarkup:magBarMarkup,barSpacing:1.3}
];
panelList.forEach(drawPanel);
</script>
</body>
</html>
